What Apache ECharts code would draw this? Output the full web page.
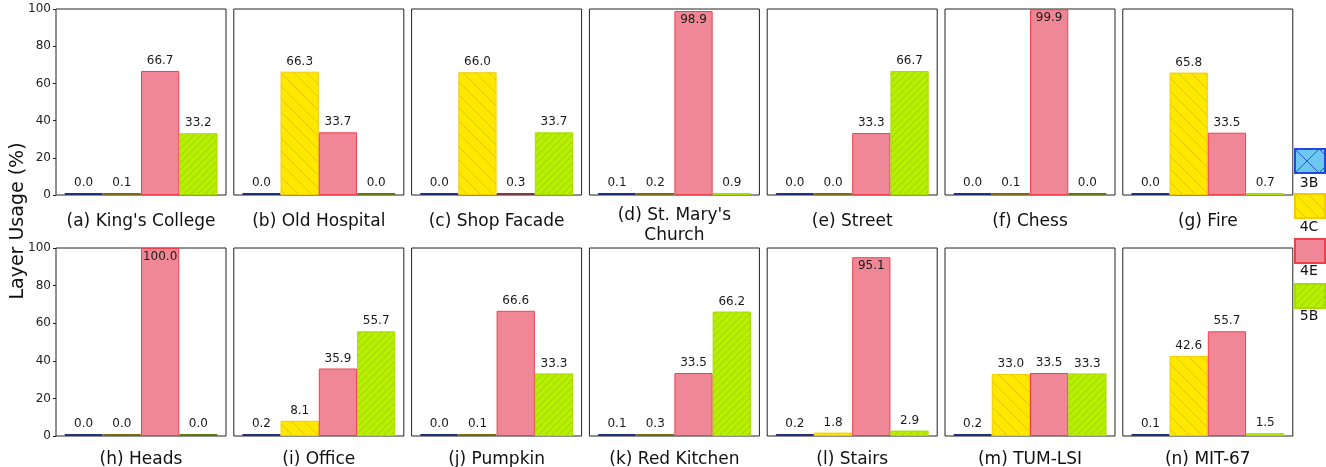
<!DOCTYPE html>
<html>
<head>
<meta charset="utf-8">
<script src="https://cdn.jsdelivr.net/npm/echarts@6/dist/echarts.min.js"></script>
<style>
html,body{margin:0;padding:0;background:#fff;}
#chart{width:1326px;height:467px;}
</style>
</head>
<body>
<div id="chart"></div>
<script>
// ---- data ----
const layers = ['3B', '4C', '4E', '5B'];
const titles = ["(a) King's College", "(b) Old Hospital", "(c) Shop Facade", "(d) St. Mary's\nChurch",
  "(e) Street", "(f) Chess", "(g) Fire", "(h) Heads", "(i) Office", "(j) Pumpkin",
  "(k) Red Kitchen", "(l) Stairs", "(m) TUM-LSI", "(n) MIT-67"];
const v3B = [0.0, 0.0, 0.0, 0.1, 0.0, 0.0, 0.0, 0.0, 0.2, 0.0, 0.1, 0.2, 0.2, 0.1];
const v4C = [0.1, 66.3, 66.0, 0.2, 0.0, 0.1, 65.8, 0.0, 8.1, 0.1, 0.3, 1.8, 33.0, 42.6];
const v4E = [66.7, 33.7, 0.3, 98.9, 33.3, 99.9, 33.5, 100.0, 35.9, 66.6, 33.5, 95.1, 33.5, 55.7];
const v5B = [33.2, 0.0, 33.7, 0.9, 66.7, 0.0, 0.7, 0.0, 55.7, 33.3, 66.2, 2.9, 33.3, 1.5];
const yTicks = [0, 20, 40, 60, 80, 100];
const values = [v3B, v4C, v4E, v5B];

// ---- hatch patterns ----
function hatch(fill, line, size, dirs, lw) {
  const c = document.createElement('canvas');
  c.width = size; c.height = size;
  const g = c.getContext('2d');
  g.fillStyle = fill; g.fillRect(0, 0, size, size);
  g.strokeStyle = line; g.lineWidth = lw;
  g.beginPath();
  dirs.forEach(d => {
    if (d === '\\') {
      g.moveTo(-1, -1); g.lineTo(size + 1, size + 1);
      g.moveTo(-1, size - 1); g.lineTo(1, size + 1);
      g.moveTo(size - 1, -1); g.lineTo(size + 1, 1);
    } else {
      g.moveTo(-1, size + 1); g.lineTo(size + 1, -1);
      g.moveTo(-1, 1); g.lineTo(1, -1);
      g.moveTo(size - 1, size + 1); g.lineTo(size + 1, size - 1);
    }
  });
  g.stroke();
  return { image: c, repeat: 'repeat' };
}
const styles = [
  { color: hatch('#6CC8F0', '#2A55E0', 24, ['\\', '/'], 1), borderColor: '#2448D8', minColor: '#23307a' },
  { color: hatch('#FFE800', '#E8C400', 13, ['\\'], 1), borderColor: '#F0CC00', minColor: '#7a6a10' },
  { color: '#F08796', borderColor: '#F0404E', minColor: '#7a3a40' },
  { color: hatch('#B8EE00', '#9CD000', 7, ['/'], 1), borderColor: '#A6DC00', minColor: '#5a7a10' }
];

// ---- layout ----
const panelW = 170, pitch = 177.8, left0 = 56;
const rows = [{ top: 9, height: 186, gap: 17 }, { top: 248, height: 188, gap: 14 }];
const font = 'DejaVu Sans';

const grid = [], xAxis = [], yAxis = [], series = [];
titles.forEach((t, i) => {
  const r = Math.floor(i / 7), c = i % 7;
  const row = rows[r];
  grid.push({
    left: left0 + c * pitch, top: row.top, width: panelW, height: row.height,
    containLabel: false, outerBoundsMode: 'none',
    show: true, borderColor: '#222', borderWidth: 1, backgroundColor: 'transparent'
  });
  xAxis.push({
    type: 'category', gridIndex: i, data: [''],
    axisLine: { show: false }, axisTick: { show: false }, axisLabel: { show: false },
    name: t, nameLocation: 'middle', nameGap: (i === 3 ? 11 : row.gap),
    nameTextStyle: { fontSize: 17, color: '#111', fontFamily: font, lineHeight: 20 }
  });
  yAxis.push({
    type: 'value', gridIndex: i, min: yTicks[0], max: yTicks[yTicks.length - 1],
    interval: yTicks[1] - yTicks[0],
    splitLine: { show: false }, axisLine: { show: false },
    axisTick: { show: c === 0, length: 3, lineStyle: { color: '#222' } },
    axisLabel: { show: c === 0, fontSize: 12, color: '#222', fontFamily: font, margin: 5 }
  });
  layers.forEach((name, k) => {
    const v = values[k][i];
    const st = styles[k];
    series.push({
      name: name, type: 'bar', xAxisIndex: i, yAxisIndex: i,
      barGap: '0%', barCategoryGap: '10%', barMinHeight: 2,
      itemStyle: { color: st.color, borderColor: st.borderColor, borderWidth: 1 },
      label: {
        show: true, position: 'top', distance: 4, fontSize: 12, color: '#1a1a1a',
        fontFamily: font, formatter: p => p.value.toFixed(1)
      },
      data: [{
        value: v,
        itemStyle: v < 0.5 ? { borderColor: st.minColor } : undefined,
        label: v > 90 ? { position: 'insideTop', distance: 3 } : undefined
      }]
    });
  });
});

const chart = echarts.init(document.getElementById('chart'), null, { renderer: 'canvas' });
chart.setOption({
  animation: false,
  backgroundColor: '#fff',
  grid, xAxis, yAxis, series,
  legend: {
    data: layers, orient: 'vertical', left: 1294, top: 148, padding: 0,
    itemWidth: 30, itemHeight: 24, itemGap: 19, icon: 'rect',
    formatter: () => '', textStyle: { fontSize: 1 }, selectedMode: false
  },
  graphic: [
    {
      type: 'text', x: 18, y: 221, rotation: Math.PI / 2,
      style: { text: 'Layer Usage (%)', fontSize: 19, fill: '#111', fontFamily: font,
        textAlign: 'center', textVerticalAlign: 'middle' }
    }
  ].concat(layers.map((n, k) => ({
    type: 'text', x: 1309, y: 183 + k * 44.4,
    style: { text: n, fontSize: 14, fill: '#111', fontFamily: font,
      textAlign: 'center', textVerticalAlign: 'middle' }
  })))
});
</script>
</body>
</html>
